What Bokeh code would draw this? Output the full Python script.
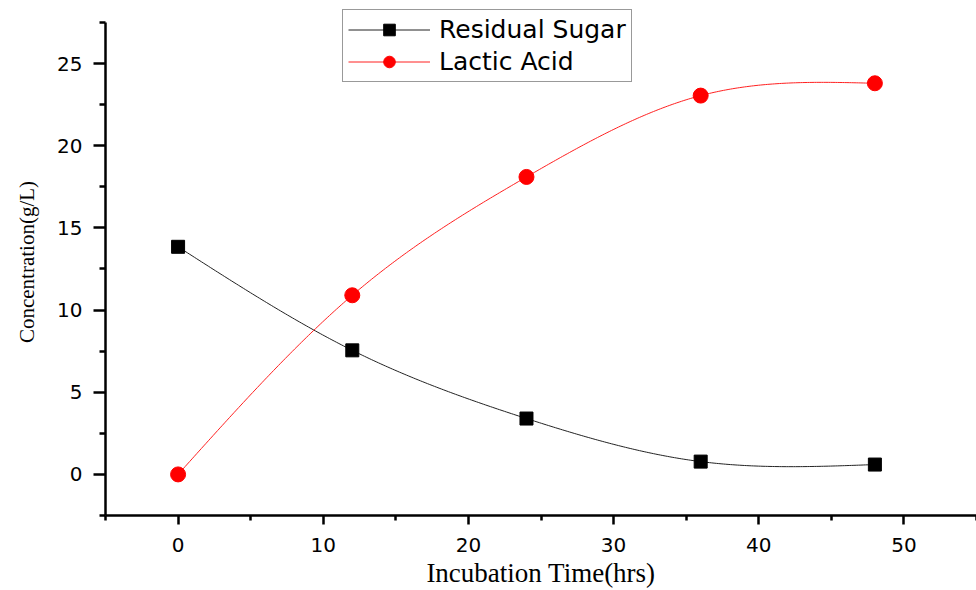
import numpy as np
from bokeh.plotting import figure
from bokeh.models import Range1d, FixedTicker, Legend, LegendItem
from bokeh.embed import file_html
from bokeh.resources import INLINE

# ---- data ----
time_hrs = [0, 12, 24, 36, 48]
residual_sugar = [13.85, 7.55, 3.4, 0.78, 0.6]
lactic_acid = [0.0, 10.9, 18.1, 23.05, 23.8]
x_major = [0, 10, 20, 30, 40, 50]
x_minor = [-5, 5, 15, 25, 35, 45, 55]
y_major = [0, 5, 10, 15, 20, 25]
y_minor = [-2.5, 2.5, 7.5, 12.5, 17.5, 22.5, 27.5]


def natural_spline(x, y, n=300):
    x = np.asarray(x, float)
    y = np.asarray(y, float)
    m = len(x)
    h = np.diff(x)
    A = np.zeros((m, m))
    b = np.zeros(m)
    A[0, 0] = 1.0
    A[-1, -1] = 1.0
    for i in range(1, m - 1):
        A[i, i - 1] = h[i - 1]
        A[i, i] = 2 * (h[i - 1] + h[i])
        A[i, i + 1] = h[i]
        b[i] = 3 * ((y[i + 1] - y[i]) / h[i] - (y[i] - y[i - 1]) / h[i - 1])
    c = np.linalg.solve(A, b)
    xs = np.linspace(x[0], x[-1], n)
    ys = np.empty_like(xs)
    for k, xv in enumerate(xs):
        i = min(np.searchsorted(x, xv, side="right") - 1, m - 2)
        t = xv - x[i]
        bi = (y[i + 1] - y[i]) / h[i] - h[i] * (2 * c[i] + c[i + 1]) / 3
        di = (c[i + 1] - c[i]) / (3 * h[i])
        ys[k] = y[i] + bi * t + c[i] * t ** 2 + di * t ** 3
    return xs, ys


p = figure(width=976, height=590, output_backend="svg", toolbar_location=None,
           x_range=Range1d(-5, 55), y_range=Range1d(-2.5, 28.35),
           min_border_left=105, min_border_right=0, min_border_top=8,
           min_border_bottom=75)
p.outline_line_color = None
p.xgrid.visible = False
p.ygrid.visible = False
p.background_fill_color = "white"
p.border_fill_color = "white"

sx, sy = natural_spline(time_hrs, residual_sugar)
lx, ly = natural_spline(time_hrs, lactic_acid)

l1 = p.line(sx, sy, line_color="#222222", line_width=1)
m1 = p.scatter(time_hrs, residual_sugar, marker="square", size=13,
               fill_color="black", line_color="black")
l2 = p.line(lx, ly, line_color="#ff2020", line_width=1)
m2 = p.scatter(time_hrs, lactic_acid, marker="circle", size=15,
               fill_color="red", line_color="red")

for ax in (p.xaxis[0], p.yaxis[0]):
    ax.axis_line_width = 2.5
    ax.axis_line_color = "black"
    ax.major_tick_line_width = 2.5
    ax.minor_tick_line_width = 2.5
    ax.major_tick_in = 0
    ax.minor_tick_in = 0
    ax.major_label_text_font = "DejaVu Sans"
    ax.major_label_text_font_size = "20px"
    ax.major_label_text_color = "black"
    ax.axis_label_text_font = "Liberation Serif"
    ax.axis_label_text_font_style = "normal"
    ax.axis_label_text_color = "black"

p.xaxis[0].ticker = FixedTicker(ticks=x_major, minor_ticks=x_minor)
p.yaxis[0].ticker = FixedTicker(ticks=y_major, minor_ticks=y_minor)
p.yaxis[0].bounds = (-2.5, 27.5)

p.xaxis[0].major_tick_out = 9
p.xaxis[0].minor_tick_out = 5
p.yaxis[0].major_tick_out = 12
p.yaxis[0].minor_tick_out = 6
p.xaxis[0].major_label_standoff = 13
p.yaxis[0].major_label_standoff = 11

p.xaxis[0].axis_label = "Incubation Time(hrs)"
p.xaxis[0].axis_label_text_font_size = "27px"
p.xaxis[0].axis_label_standoff = 3
p.yaxis[0].axis_label = "Concentration(g/L)"
p.yaxis[0].axis_label_text_font_size = "21px"
p.yaxis[0].axis_label_standoff = 15

legend = Legend(items=[
    LegendItem(label="Residual Sugar", renderers=[l1, m1]),
    LegendItem(label="Lactic Acid", renderers=[l2, m2]),
], location=(237, 433))
legend.label_text_font = "DejaVu Sans"
legend.label_text_font_size = "25px"
legend.label_text_color = "black"
legend.glyph_width = 82
legend.glyph_height = 29
legend.label_height = 29
legend.label_standoff = 9
legend.spacing = 3
legend.padding = 5
legend.margin = 0
legend.border_line_color = "#333333"
legend.border_line_width = 1
legend.background_fill_alpha = 1
p.add_layout(legend, "center")

open("out.html", "w").write(file_html(p, INLINE))
